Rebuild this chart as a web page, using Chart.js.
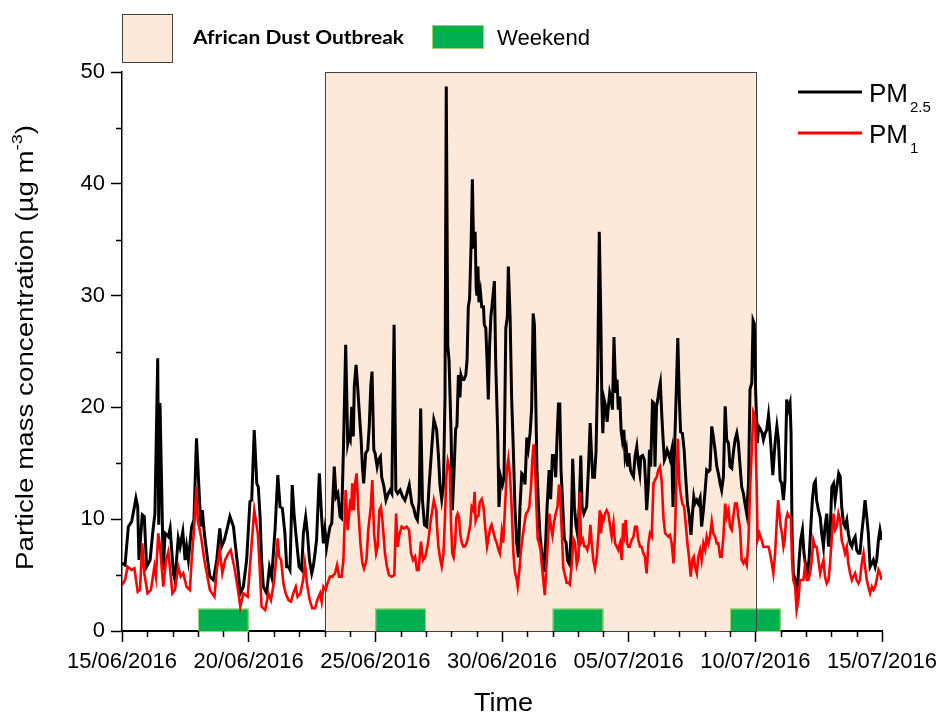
<!DOCTYPE html>
<html>
<head>
<meta charset="utf-8">
<script src="https://cdn.jsdelivr.net/npm/chart.js@4.4.1/dist/chart.umd.min.js"></script>
<style>
  html, body { margin: 0; padding: 0; background: #fff; }
  #wrap { width: 941px; height: 713px; }
</style>
</head>
<body>
<div id="wrap"><canvas id="pmChart" width="941" height="713"></canvas></div>
<script>
// x values are days since 15/06/2016 00:00
var dateLabels = ['15/06/2016', '20/06/2016', '25/06/2016', '30/06/2016', '05/07/2016', '10/07/2016', '15/07/2016'];

var pm25Days = [0.00,0.12,0.25,0.38,0.49,0.55,0.62,0.67,0.80,0.88,0.97,1.11,1.21,1.30,1.41,1.45,1.50,1.63,1.70,1.83,1.90,2.03,2.09,2.22,2.29,2.40,2.49,2.55,2.62,2.75,2.84,2.94,3.08,3.12,3.17,3.25,3.38,3.47,3.61,3.74,3.86,3.93,4.04,4.17,4.26,4.40,4.46,4.57,4.67,4.79,4.92,5.05,5.12,5.22,5.32,5.38,5.45,5.51,5.58,5.71,5.82,5.91,6.04,6.15,6.24,6.33,6.43,6.50,6.57,6.63,6.72,6.80,6.90,6.99,7.09,7.16,7.25,7.32,7.40,7.49,7.55,7.62,7.68,7.79,7.88,7.95,8.01,8.08,8.14,8.21,8.28,8.38,8.45,8.52,8.61,8.67,8.74,8.83,8.91,8.96,9.01,9.07,9.13,9.17,9.24,9.30,9.36,9.44,9.49,9.54,9.62,9.70,9.76,9.82,9.87,9.94,9.99,10.07,10.12,10.20,10.25,10.34,10.42,10.51,10.58,10.65,10.74,10.81,10.88,10.98,11.08,11.17,11.25,11.34,11.44,11.52,11.59,11.66,11.73,11.79,11.86,11.94,12.03,12.12,12.23,12.31,12.42,12.49,12.55,12.62,12.69,12.75,12.80,12.86,12.91,12.99,13.04,13.11,13.17,13.22,13.28,13.34,13.38,13.43,13.50,13.57,13.62,13.67,13.72,13.78,13.83,13.88,13.94,13.98,14.01,14.05,14.09,14.15,14.20,14.27,14.30,14.36,14.41,14.46,14.51,14.56,14.62,14.70,14.75,14.83,14.88,14.95,15.02,15.08,15.15,15.21,15.25,15.32,15.38,15.45,15.51,15.58,15.65,15.71,15.78,15.86,15.91,15.98,16.04,16.11,16.17,16.23,16.28,16.33,16.38,16.44,16.50,16.57,16.65,16.73,16.78,16.86,16.92,16.99,17.06,17.12,17.18,17.23,17.28,17.33,17.40,17.46,17.53,17.59,17.67,17.73,17.79,17.86,17.92,17.99,18.05,18.11,18.16,18.23,18.28,18.34,18.41,18.48,18.53,18.58,18.65,18.71,18.78,18.84,18.90,18.94,18.98,19.03,19.09,19.15,19.20,19.25,19.31,19.36,19.42,19.49,19.54,19.59,19.65,19.70,19.75,19.81,19.86,19.91,19.96,20.01,20.07,20.12,20.19,20.25,20.32,20.38,20.44,20.48,20.55,20.62,20.67,20.71,20.78,20.82,20.87,20.94,20.99,21.04,21.10,21.15,21.20,21.25,21.31,21.36,21.41,21.46,21.52,21.57,21.63,21.70,21.75,21.81,21.87,21.94,22.00,22.05,22.12,22.19,22.25,22.32,22.38,22.46,22.51,22.57,22.62,22.69,22.75,22.82,22.88,22.95,23.02,23.08,23.15,23.21,23.28,23.34,23.41,23.48,23.54,23.61,23.67,23.74,23.81,23.87,23.94,24.00,24.07,24.13,24.20,24.27,24.33,24.40,24.46,24.53,24.59,24.66,24.73,24.79,24.86,24.91,24.96,25.01,25.08,25.13,25.21,25.27,25.32,25.39,25.45,25.52,25.58,25.65,25.69,25.74,25.79,25.85,25.91,25.98,26.04,26.11,26.17,26.24,26.30,26.37,26.41,26.45,26.50,26.58,26.66,26.73,26.79,26.86,26.92,26.99,27.05,27.12,27.19,27.25,27.32,27.37,27.42,27.49,27.56,27.62,27.69,27.75,27.82,27.89,27.95,28.02,28.09,28.15,28.22,28.29,28.35,28.41,28.48,28.54,28.61,28.67,28.74,28.81,28.87,28.94,29.00,29.07,29.13,29.20,29.27,29.33,29.40,29.46,29.53,29.60,29.66,29.73,29.79,29.86,29.92,29.99];
var pm25 = [6.05,5.9,9.33,9.78,11.1,11.87,11.1,6.35,10.4,10.25,5.75,6.35,8.74,10.5,24.4,9.5,20.4,5.46,8.74,8.44,9.18,5.16,4.56,8.29,7.54,8.88,6.35,7.54,6.35,9.33,9.93,17.24,10.82,9.33,10.82,8.74,6.35,4.86,4.56,6.35,9.18,7.54,8.14,9.33,10.25,9.33,7.99,5.75,3.37,3.96,6.35,11.57,11.72,17.98,13.2,12.9,10.25,6.35,3.96,3.37,5.7,4.86,9.0,13.95,11.1,10.97,8.74,5.75,5.75,5.46,13.06,10.22,7.84,5.75,5.46,8.74,10.22,8.74,6.35,5.16,5.75,6.95,8.14,14.1,10.22,7.84,9.03,7.54,8.44,9.33,9.63,14.7,12.0,12.3,10.22,10.08,16.2,25.6,16.8,17.4,17.1,20.06,17.4,21.9,23.8,21.9,19.8,17.1,14.7,13.2,15.9,16.2,18.3,21.9,23.2,16.2,15.9,14.7,15.3,15.6,13.8,12.9,11.7,12.3,12.6,12.3,27.4,12.6,12.3,12.6,12.0,11.7,12.3,13.06,11.4,10.97,10.22,9.93,11.7,19.9,11.7,9.48,9.33,12.9,16.5,18.9,18.0,15.7,13.1,11.8,13.1,20.9,48.7,25.5,24.2,17.7,10.8,14.4,18.1,18.3,22.9,20.9,22.9,22.5,22.5,22.9,24.2,29.0,29.7,34.6,40.4,34.2,35.7,30.7,30.0,32.6,29.4,30.3,29.0,29.0,27.4,27.1,24.2,20.7,25.5,28.1,29.4,31.3,24.2,17.7,11.1,13.75,13.1,13.75,27.1,28.1,32.6,28.1,20.9,16.0,11.1,7.9,6.6,11.1,14.1,13.9,13.1,17.3,16.35,17.7,19.9,28.4,27.4,20.9,14.4,11.1,8.54,6.92,5.3,8.22,11.1,14.4,11.8,15.7,15.7,13.75,17.7,20.3,20.3,14.4,11.1,8.22,7.9,6.27,5.95,8.87,15.4,11.1,9.5,8.54,11.1,15.7,11.1,10.5,10.8,11.1,14.4,18.6,16.0,13.75,13.75,16.0,23.5,35.7,28.1,20.7,17.7,20.7,20.1,18.7,20.1,21.3,20.7,19.8,26.3,21.3,22.5,19.8,20.96,18.0,17.1,18.0,15.6,16.2,14.7,15.9,14.4,14.1,13.8,15.6,16.5,15.0,14.1,15.6,15.7,15.3,13.2,10.8,13.2,16.2,14.7,20.5,20.4,14.7,20.1,20.7,21.6,22.2,19.2,17.1,15.3,15.6,16.2,15.9,15.4,16.2,11.1,16.2,20.7,26.2,20.7,17.8,17.7,16.2,13.8,11.4,10.5,8.59,10.2,12.0,11.4,11.7,11.4,11.9,9.33,10.8,12.6,14.4,14.25,14.4,18.3,17.4,16.2,14.7,14.1,13.2,12.6,13.8,20.1,17.1,16.8,14.7,14.55,15.9,17.1,17.7,16.8,14.7,12.9,12.3,11.4,10.5,13.2,21.6,22.2,27.8,27.5,21.6,16.8,18.3,18.0,17.7,17.1,17.7,18.0,19.3,17.7,15.3,13.95,15.6,17.1,18.3,17.1,13.5,13.2,11.7,13.5,20.7,19.8,20.4,17.7,8.74,5.16,4.56,3.67,6.35,8.14,9.03,6.95,5.75,5.16,6.35,9.33,11.7,13.2,13.4,11.7,10.8,10.2,8.74,7.54,9.33,10.5,7.54,8.74,12.9,13.2,11.7,12.9,14.1,13.8,11.1,9.63,9.33,9.93,8.74,7.84,7.54,8.14,8.44,7.25,6.95,6.95,8.74,10.2,11.7,10.2,8.74,5.75,6.05,6.35,5.75,6.35,8.14,9.03,8.14];

var pm1Days = [0.00,0.12,0.22,0.38,0.49,0.62,0.71,0.80,0.88,1.01,1.14,1.28,1.34,1.43,1.50,1.63,1.74,1.83,1.99,2.09,2.22,2.32,2.42,2.55,2.68,2.75,2.84,2.94,2.99,3.12,3.25,3.47,3.65,3.74,3.86,3.96,4.07,4.20,4.29,4.43,4.56,4.67,4.79,4.96,5.12,5.22,5.36,5.42,5.51,5.65,5.78,5.88,6.01,6.15,6.20,6.28,6.37,6.46,6.57,6.67,6.76,6.86,6.93,7.04,7.15,7.22,7.30,7.41,7.51,7.62,7.71,7.82,7.88,7.95,8.04,8.11,8.21,8.30,8.41,8.49,8.57,8.67,8.74,8.83,8.91,9.00,9.05,9.09,9.15,9.20,9.26,9.33,9.41,9.49,9.55,9.65,9.72,9.82,9.88,9.95,10.03,10.09,10.16,10.22,10.29,10.38,10.46,10.54,10.65,10.75,10.82,10.88,10.96,11.04,11.13,11.24,11.33,11.41,11.49,11.57,11.64,11.71,11.80,11.88,11.97,12.08,12.19,12.31,12.40,12.42,12.49,12.55,12.62,12.69,12.75,12.80,12.86,12.94,12.99,13.04,13.09,13.15,13.20,13.25,13.30,13.36,13.41,13.47,13.54,13.61,13.67,13.75,13.80,13.87,13.92,13.96,14.01,14.07,14.12,14.20,14.27,14.33,14.41,14.46,14.53,14.59,14.66,14.73,14.79,14.86,14.92,14.99,15.05,15.12,15.19,15.25,15.32,15.38,15.45,15.51,15.58,15.62,15.68,15.75,15.82,15.88,15.95,16.02,16.08,16.15,16.20,16.25,16.31,16.36,16.41,16.46,16.52,16.57,16.64,16.69,16.74,16.81,16.87,16.94,16.99,17.06,17.12,17.19,17.25,17.30,17.36,17.42,17.49,17.55,17.62,17.68,17.75,17.82,17.88,17.95,18.02,18.07,18.12,18.19,18.25,18.31,18.37,18.44,18.49,18.54,18.61,18.67,18.74,18.81,18.86,18.91,18.96,19.01,19.07,19.13,19.20,19.27,19.33,19.40,19.46,19.53,19.59,19.66,19.73,19.78,19.83,19.88,19.94,19.99,20.04,20.12,20.19,20.25,20.32,20.38,20.45,20.51,20.58,20.64,20.71,20.78,20.84,20.91,20.98,21.04,21.11,21.17,21.24,21.31,21.37,21.44,21.50,21.57,21.63,21.70,21.77,21.83,21.88,21.94,22.00,22.07,22.12,22.19,22.25,22.32,22.38,22.45,22.51,22.57,22.62,22.69,22.75,22.82,22.88,22.95,23.02,23.08,23.15,23.21,23.28,23.34,23.41,23.48,23.54,23.61,23.67,23.74,23.81,23.87,23.94,24.00,24.07,24.13,24.20,24.27,24.33,24.40,24.46,24.53,24.59,24.66,24.73,24.79,24.86,24.92,24.99,25.05,25.09,25.16,25.25,25.32,25.39,25.45,25.52,25.58,25.65,25.71,25.78,25.85,25.90,25.95,26.00,26.05,26.11,26.16,26.21,26.27,26.33,26.40,26.45,26.50,26.57,26.63,26.70,26.76,26.83,26.90,26.96,27.03,27.09,27.16,27.23,27.29,27.36,27.42,27.49,27.56,27.62,27.69,27.75,27.82,27.89,27.95,28.02,28.09,28.15,28.22,28.28,28.35,28.41,28.48,28.54,28.61,28.67,28.74,28.81,28.87,28.94,29.00,29.07,29.13,29.20,29.27,29.33,29.40,29.46,29.53,29.60,29.66,29.73,29.79,29.86,29.92,29.99];
var pm1 = [4.1,4.56,5.75,5.46,5.6,3.5,3.67,7.84,5.16,3.37,3.67,5.75,4.86,8.74,7.54,3.96,6.35,7.1,3.37,3.67,5.75,4.86,5.16,3.96,3.67,6.35,9.03,12.9,9.93,8.44,6.35,3.67,3.07,5.46,7.25,5.16,6.35,6.95,7.25,5.75,3.96,2.17,3.37,3.07,7.84,10.82,8.74,6.35,2.17,1.88,3.37,2.77,4.5,8.29,6.65,6.35,4.26,3.37,2.77,2.62,3.37,3.96,3.07,3.37,4.56,6.05,4.26,2.77,2.03,2.03,2.77,3.37,2.62,3.96,3.67,4.26,4.86,4.86,5.16,5.9,4.86,4.86,6.35,12.6,9.03,11.4,11.1,13.2,10.8,13.2,14.1,10.8,7.84,6.05,5.6,6.35,9.03,11.1,13.5,8.74,6.95,7.54,10.8,11.1,9.63,6.95,5.75,5.0,4.86,5.0,10.5,7.54,8.74,9.33,9.18,9.33,9.03,6.95,6.35,6.65,5.46,5.46,8.0,6.35,6.65,7.84,9.93,11.7,10.8,9.85,7.57,6.6,5.78,6.92,10.2,13.75,15.2,14.4,9.5,6.92,6.6,7.9,10.2,10.5,10.2,8.54,7.9,7.57,7.57,7.9,8.54,9.5,11.1,10.8,12.45,9.85,10.2,10.3,11.5,11.8,11.1,9.5,7.57,8.22,9.2,9.5,8.87,8.22,7.9,7.25,6.92,8.87,7.9,11.1,14.4,15.4,13.75,11.1,6.92,5.3,4.64,4.0,5.3,7.25,8.54,9.5,10.5,10.7,11.1,13.1,15.4,16.7,14.4,11.1,8.22,7.9,7.25,5.95,4.32,3.2,5.3,7.9,10.5,9.2,8.54,9.85,10.5,11.1,13.1,11.8,8.87,5.6,4.96,4.32,4.32,4.16,5.95,8.22,7.9,5.95,6.6,12.45,7.9,8.22,7.57,7.57,7.25,7.9,9.5,7.9,6.27,5.6,6.65,8.74,10.8,8.74,10.2,9.93,10.5,10.8,10.5,9.33,8.44,9.63,7.84,7.54,7.25,7.84,6.35,9.63,8.74,9.93,7.84,7.54,7.54,8.14,8.44,9.33,9.33,8.14,7.54,7.54,6.95,6.65,5.16,7.84,8.74,8.44,13.2,13.5,13.8,14.4,14.7,13.2,10.2,8.74,8.59,8.44,8.59,7.84,6.05,8.74,13.2,17.2,13.2,12.0,11.4,11.1,9.63,7.84,6.65,4.86,6.35,6.65,5.75,5.16,6.65,7.25,6.35,7.84,7.25,8.44,7.84,8.44,9.78,8.74,8.44,7.84,7.84,6.65,6.65,8.44,11.4,10.2,10.8,9.33,9.03,10.2,11.4,11.4,10.2,9.03,6.35,6.05,6.35,5.9,8.14,12.6,16.2,19.6,19.2,13.2,8.14,8.74,8.14,7.54,7.54,7.54,7.54,6.95,6.05,5.16,6.95,9.93,11.7,10.5,9.33,8.74,7.54,8.14,9.93,10.5,10.2,10.2,6.35,4.56,3.96,1.88,2.77,4.56,4.56,4.56,5.75,4.56,4.56,5.16,6.35,8.14,7.54,7.54,6.35,5.16,5.75,6.35,4.86,4.26,4.56,6.05,8.44,10.5,9.03,9.33,10.5,9.93,8.14,7.54,6.95,7.54,6.05,5.16,4.56,4.86,5.16,4.56,4.26,4.56,6.05,6.95,5.75,4.56,3.96,3.37,3.96,3.67,3.96,4.56,5.46,5.16,4.56];

// African dust outbreak period and weekends (day offsets), weekend bar height in µg m-3
var dustStart = 8;
var dustEnd = 25;
var weekendStarts = [3, 10, 17, 24];
var weekendLength = 2;
var weekendHeight = 2;

function toPoints(days, vals) {
    return days.map(function(d, i) { return { x: d, y: vals[i] }; });
}

var fontFamily = "'Liberation Sans', Arial, sans-serif";

// draw text, optionally squeezed/stretched horizontally to a target width
function drawText(ctx, text, x, y, font, width) {
    ctx.save();
    ctx.font = font;
    ctx.textBaseline = 'alphabetic';
    ctx.textAlign = 'left';
    var w = ctx.measureText(text).width;
    ctx.translate(x, y);
    if (width) ctx.scale(width / w, 1);
    ctx.fillText(text, 0, 0);
    ctx.restore();
}

var backdrop = {
    id: 'backdrop',
    beforeDatasetsDraw: function(chart) {
        var ctx = chart.ctx, xs = chart.scales.x, ys = chart.scales.y;
        var area = chart.chartArea;
        var x0 = xs.getPixelForValue(dustStart), x1 = xs.getPixelForValue(dustEnd);
        var yb = ys.getPixelForValue(0);
        ctx.save();
        ctx.fillStyle = '#fde9d9';
        ctx.fillRect(x0, area.top, x1 - x0, yb - area.top);
        weekendStarts.forEach(function(s) {
            var a = xs.getPixelForValue(s), b = xs.getPixelForValue(s + weekendLength);
            var t = ys.getPixelForValue(weekendHeight);
            ctx.fillStyle = '#00b050';
            ctx.fillRect(a, t, b - a, yb - t);
            ctx.strokeStyle = '#9bd26a';
            ctx.lineWidth = 1;
            ctx.strokeRect(a + 0.5, t + 0.5, b - a - 1, yb - t);
        });
        ctx.strokeStyle = '#444';
        ctx.lineWidth = 1;
        ctx.strokeRect(Math.round(x0) + 0.5, Math.round(area.top) + 0.5, Math.round(x1 - x0), yb - area.top);
        ctx.restore();
    },
    afterDraw: function(chart) {
        var ctx = chart.ctx, xs = chart.scales.x, ys = chart.scales.y;
        var yb = ys.getPixelForValue(0), xl = xs.getPixelForValue(0);
        ctx.save();
        // minor ticks
        ctx.strokeStyle = '#000';
        ctx.lineWidth = 1.5;
        ctx.beginPath();
        for (var d = 0; d <= 30; d++) {
            if (d % 5 === 0) continue;
            var px = Math.round(xs.getPixelForValue(d)) + 0.5;
            ctx.moveTo(px, yb);
            ctx.lineTo(px, yb + 6);
        }
        for (var v = 5; v < 50; v += 10) {
            var py = Math.round(ys.getPixelForValue(v)) + 0.5;
            ctx.moveTo(xl, py);
            ctx.lineTo(xl - 6, py);
        }
        ctx.stroke();

        // top legend
        ctx.fillStyle = '#fde9d9';
        ctx.fillRect(122, 14, 50, 48);
        ctx.strokeStyle = '#444';
        ctx.lineWidth = 1;
        ctx.strokeRect(122.5, 14.5, 50, 48);
        ctx.fillStyle = '#000';
        drawText(ctx, 'African Dust Outbreak', 193, 44, "bold 18px Lato, 'Open Sans', sans-serif", 211);
        ctx.fillStyle = '#00b050';
        ctx.fillRect(432, 25, 52, 24);
        ctx.strokeStyle = '#9bd26a';
        ctx.strokeRect(432.5, 25.5, 51, 23);
        ctx.fillStyle = '#000';
        drawText(ctx, 'Weekend', 497, 45, '22px ' + fontFamily, 93);

        // series legend
        ctx.lineWidth = 3;
        ctx.strokeStyle = '#000';
        ctx.beginPath(); ctx.moveTo(798, 92); ctx.lineTo(862, 92); ctx.stroke();
        ctx.strokeStyle = '#ff0000';
        ctx.beginPath(); ctx.moveTo(798, 133); ctx.lineTo(862, 133); ctx.stroke();
        drawText(ctx, 'PM', 869, 102, '26px ' + fontFamily);
        drawText(ctx, '2.5', 910, 112, '15px ' + fontFamily);
        drawText(ctx, 'PM', 869, 143, '26px ' + fontFamily);
        drawText(ctx, '1', 910, 153, '15px ' + fontFamily);

        // x axis title
        drawText(ctx, 'Time', 474, 711, '26px ' + fontFamily, 59);

        // y axis title, rotated, with superscript
        ctx.save();
        ctx.translate(33, 570);
        ctx.rotate(-Math.PI / 2);
        var mainFont = '23px ' + fontFamily, supFont = '15px ' + fontFamily;
        ctx.font = mainFont;
        var t1 = 'Particle mass concentration (\u00b5g m', t3 = ')';
        var w1 = ctx.measureText(t1).width, w3 = ctx.measureText(t3).width;
        ctx.font = supFont;
        var w2 = ctx.measureText('-3').width;
        var k = 445 / (w1 + w2 + w3);
        ctx.scale(k, 1);
        ctx.textBaseline = 'alphabetic';
        ctx.font = mainFont;
        ctx.fillText(t1, 0, 0);
        ctx.font = supFont;
        ctx.fillText('-3', w1, -11);
        ctx.font = mainFont;
        ctx.fillText(t3, w1 + w2, 0);
        ctx.restore();
        ctx.restore();
    }
};

var ctx = document.getElementById('pmChart').getContext('2d');
var pmChart = new Chart(ctx, {
    type: 'line',
    data: {
        datasets: [{
            label: 'PM1',
            data: toPoints(pm1Days, pm1),
            borderColor: '#ff0000',
            borderWidth: 2.6,
            pointRadius: 0,
            tension: 0
        }, {
            label: 'PM2.5',
            data: toPoints(pm25Days, pm25),
            borderColor: '#000000',
            borderWidth: 3,
            pointRadius: 0,
            tension: 0
        }]
    },
    options: {
        responsive: false,
        animation: false,
        layout: { padding: { top: 72, right: 59, left: 0, bottom: 0 } },
        plugins: {
            legend: { display: false },
            tooltip: { enabled: false }
        },
        scales: {
            x: {
                type: 'linear',
                min: 0,
                max: 30,
                afterFit: function(s) {
                    s.height = 82;
                    s.paddingLeft = 0;
                    s.paddingRight = 0;
                },
                afterBuildTicks: function(s) {
                    s.ticks = [0, 5, 10, 15, 20, 25, 30].map(function(v) { return { value: v }; });
                },
                ticks: {
                    autoSkip: false,
                    maxRotation: 0,
                    color: '#000',
                    padding: 7,
                    font: { family: fontFamily, size: 22 },
                    callback: function(value) { return dateLabels[Math.round(value / 5)]; }
                },
                grid: { drawOnChartArea: false, tickLength: 11, tickColor: '#000', tickWidth: 1.5 },
                border: { color: '#000', width: 2 }
            },
            y: {
                min: 0,
                max: 50,
                afterFit: function(s) {
                    s.width = 122;
                    s.paddingTop = 0;
                    s.paddingBottom = 0;
                },
                ticks: {
                    stepSize: 10,
                    color: '#000',
                    padding: 6,
                    font: { family: fontFamily, size: 22 }
                },
                grid: { drawOnChartArea: false, tickLength: 11, tickColor: '#000', tickWidth: 1.5 },
                border: { color: '#000', width: 1.5 }
            }
        }
    },
    plugins: [backdrop]
});
</script>
</body>
</html>
